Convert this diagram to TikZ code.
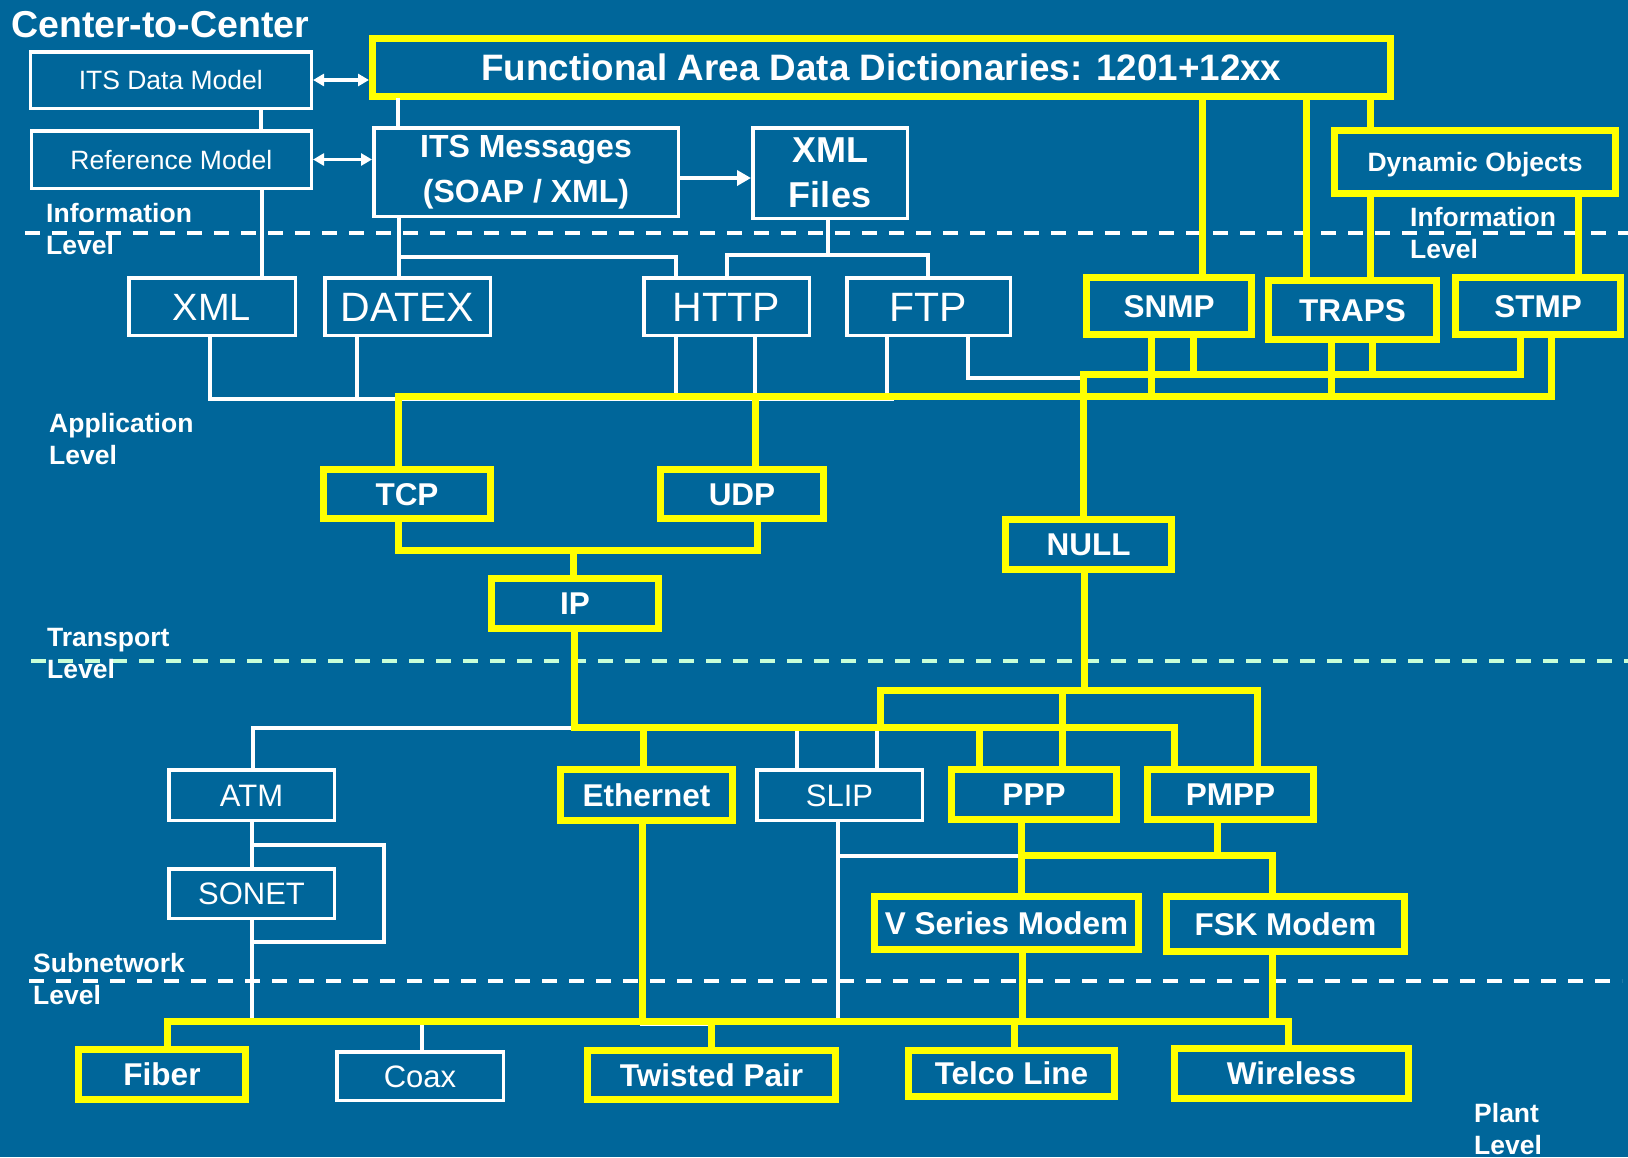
\documentclass[tikz,border=0pt]{standalone}
\usepackage{fontspec}
\setmainfont{Liberation Sans}
\usetikzlibrary{arrows.meta}
\definecolor{bg}{HTML}{00669A}
\definecolor{yl}{HTML}{FFFF00}
\definecolor{mint}{HTML}{C8FFD8}
\begin{document}
\begin{tikzpicture}[x=1pt,y=-1pt,
  ybox/.style={draw=yl, line width=7pt, inner sep=0pt, text=white,
    font=\bfseries\fontsize{31.5}{36}\selectfont, text height=22.5pt, text depth=0pt},
  wbox/.style={draw=white, line width=3.5pt, inner sep=0pt, text=white,
    font=\fontsize{31}{36}\selectfont, text height=22.2pt, text depth=0pt},
  wsmall/.style={wbox, font=\fontsize{26.5}{30}\selectfont, text height=19pt},
  wbig/.style={wbox, font=\fontsize{41}{46}\selectfont, text height=29.4pt},
  lbl/.style={text=white, font=\bfseries\fontsize{26.5}{32}\selectfont, align=left,
    inner sep=0pt, anchor=north west},
  yl/.style={draw=yl, line width=7pt, line cap=rect},
  wl/.style={draw=white, line width=3.5pt, line cap=rect},
  dl/.style={line width=4pt, dash pattern=on 15pt off 12pt},
  arr/.style={wl, line cap=butt, {Triangle[length=11pt,width=12pt]}-{Triangle[length=11pt,width=12pt]}}
]
\fill[bg] (0,0) rectangle (1628,1157);
\useasboundingbox (0,0) rectangle (1628,1157);

% level separators
\draw[dl, white] (25,233) -- (1628,233);
\draw[dl, mint] (31,661) -- (1628,661);
\draw[dl, white] (29,981) -- (1622,981);

% title and level labels
\node[anchor=base west, inner sep=0pt, text=white, font=\bfseries\fontsize{37.5}{40}\selectfont] (title) at (11,37) {Center-to-Center};
\node[lbl] (linfo) at (46,203) {Information\\Level};
\node[lbl] (lapp) at (49,413) {Application\\Level};
\node[lbl] (ltrans) at (47,628) {Transport\\Level};
\node[lbl] (lsub) at (33,953) {Subnetwork\\Level};
\node[lbl] (rinfo) at (1410,207) {Information\\Level};
\node[lbl] (lplant) at (1474,1103) {Plant\\Level};

% yellow boxes
\node[ybox, minimum width=1018pt, minimum height=58pt, font=\bfseries\fontsize{36.8}{40}\selectfont, text height=26.3pt] (func) at (881.5,67.5) {Functional Area Data Dictionaries: 1201+12xx};
\node[ybox, minimum width=281pt, minimum height=63pt, font=\bfseries\fontsize{26.5}{30}\selectfont, text height=19pt] (dyn) at (1475,162) {Dynamic Objects};
\node[ybox, minimum width=165pt, minimum height=57pt] (snmp) at (1169,306) {SNMP};
\node[ybox, minimum width=168pt, minimum height=59pt] (traps) at (1352.5,310) {TRAPS};
\node[ybox, minimum width=165pt, minimum height=57pt] (stmp) at (1538,306) {STMP};
\node[ybox, minimum width=167pt, minimum height=49pt] (tcp) at (407,494) {TCP};
\node[ybox, minimum width=163pt, minimum height=49pt] (udp) at (742,494) {UDP};
\node[ybox, minimum width=166pt, minimum height=50pt] (null) at (1088.5,544.5) {NULL};
\node[ybox, minimum width=167pt, minimum height=50pt] (ip) at (575,603.5) {IP};
\node[ybox, minimum width=172pt, minimum height=51pt] (eth) at (646.5,795) {Ethernet};
\node[ybox, minimum width=165pt, minimum height=50pt] (ppp) at (1034,794.5) {PPP};
\node[ybox, minimum width=166pt, minimum height=50pt] (pmpp) at (1230.5,794.5) {PMPP};
\node[ybox, minimum width=264pt, minimum height=53pt] (vser) at (1006.5,923) {V Series Modem};
\node[ybox, minimum width=238pt, minimum height=55pt] (fsk) at (1285.5,924) {FSK Modem};
\node[ybox, minimum width=167pt, minimum height=50pt] (fiber) at (162,1074.5) {Fiber};
\node[ybox, minimum width=248pt, minimum height=49pt] (twisted) at (711.5,1075) {Twisted Pair};
\node[ybox, minimum width=206pt, minimum height=46pt] (telco) at (1011.5,1073.5) {Telco Line};
\node[ybox, minimum width=234pt, minimum height=50pt] (wireless) at (1291.5,1073.5) {Wireless};

% white boxes
\node[wsmall, minimum width=281pt, minimum height=56.5pt] (itsdm) at (170.8,80) {ITS Data Model};
\node[wsmall, minimum width=280pt, minimum height=57.5pt] (refm) at (171.3,159.5) {Reference Model};
\node[draw=white, line width=3.5pt, inner sep=0pt, text=white, align=center,
  font=\bfseries\fontsize{32}{45}\selectfont, minimum width=304.5pt, minimum height=88.5pt] (itsmsg) at (526,172) {ITS Messages\\(SOAP / XML)};
\node[draw=white, line width=3.5pt, inner sep=0pt, text=white, align=center,
  font=\bfseries\fontsize{36}{45}\selectfont, minimum width=154.5pt, minimum height=90.5pt] (xmlf) at (830,173) {XML\\Files};
\node[wbig, minimum width=166.5pt, minimum height=57.5pt, font=\fontsize{38}{42}\selectfont, text height=27.2pt] (xml) at (212,306.5) {XML};
\node[wbig, minimum width=165.5pt, minimum height=57.5pt] (datex) at (407.5,306.5) {DATEX};
\node[wbig, minimum width=165.5pt, minimum height=57.5pt] (http) at (726.5,306.5) {HTTP};
\node[wbig, minimum width=163.5pt, minimum height=57.5pt] (ftp) at (928.5,306.5) {FTP};
\node[wbox, minimum width=165.5pt, minimum height=50.5pt] (atm) at (251.5,795) {ATM};
\node[wbox, minimum width=165.5pt, minimum height=49.5pt] (sonet) at (251.5,893.5) {SONET};
\node[wbox, minimum width=165.5pt, minimum height=50.5pt] (slip) at (839.5,795) {SLIP};
\node[wbox, minimum width=166.5pt, minimum height=48.5pt] (coax) at (420,1076) {Coax};

% white connectors
\draw[wl] (261,0 |- itsdm.south) -- (261,0 |- refm.north);
\draw[wl] (262,0 |- refm.south) -- (262,0 |- xml.north);
\draw[arr] (itsdm.east) -- (func.west |- itsdm.east);
\draw[arr] (refm.east) -- (itsmsg.west |- refm.east);
\draw[wl, line cap=butt, -{Triangle[length=14pt,width=15pt]}] (itsmsg.east |- 0,178) -- (xmlf.west |- 0,178);
\draw[wl] (398,0 |- func.south) -- (398,0 |- itsmsg.north);
\draw[wl] (399,0 |- itsmsg.south) -- (399,0 |- datex.north);
\draw[wl] (399,257) -- (676,257) -- (676,0 |- http.north);
\draw[wl] (828,0 |- xmlf.south) -- (828,255);
\draw[wl] (727,0 |- http.north) -- (727,255) -- (928,255) -- (928,0 |- ftp.north);
\draw[wl] (210,0 |- xml.south) -- (210,399) -- (892,399);
\draw[wl] (357,0 |- datex.south) -- (357,398);
\draw[wl] (676,0 |- http.south) -- (676,396);
\draw[wl] (755,0 |- http.south) -- (755,396);
\draw[wl] (887,0 |- ftp.south) -- (887,398);
\draw[wl] (968,0 |- ftp.south) -- (968,378) -- (1083,378);
\draw[wl] (574,728) -- (253,728) -- (253,0 |- atm.north);
\draw[wl] (252,0 |- atm.south) -- (252,0 |- sonet.north);
\draw[wl] (252,845) -- (384,845) -- (384,942) -- (252,942);
\draw[wl] (252,0 |- sonet.south) -- (252,1021);
\draw[wl] (422,0 |- coax.north) -- (422,1021);
\draw[wl] (797,0 |- slip.north) -- (797,727);
\draw[wl] (877,0 |- slip.north) -- (877,727);
\draw[wl] (838,0 |- slip.south) -- (838,1021);
\draw[wl] (838,856) -- (1021,856);
\draw[wl] (642,1024) -- (711,1024);

% yellow connectors
\draw[yl] (1202,0 |- func.south) -- (1202,0 |- snmp.north);
\draw[yl] (1306,0 |- func.south) -- (1306,0 |- traps.north);
\draw[yl] (1370,0 |- func.south) -- (1370,0 |- dyn.north);
\draw[yl] (1370,0 |- dyn.south) -- (1370,0 |- traps.north);
\draw[yl] (1578,0 |- dyn.south) -- (1578,0 |- stmp.north);
\draw[yl] (1520,0 |- stmp.south) -- (1520,374) -- (1083,374) -- (1083,0 |- null.north);
\draw[yl] (1193,0 |- snmp.south) -- (1193,374);
\draw[yl] (1372,0 |- traps.south) -- (1372,374);
\draw[yl] (1551,0 |- stmp.south) -- (1551,396) -- (398,396) -- (398,0 |- tcp.north);
\draw[yl] (1151,0 |- snmp.south) -- (1151,396);
\draw[yl] (1331,0 |- traps.south) -- (1331,396);
\draw[yl] (755,396) -- (755,0 |- udp.north);
\draw[yl] (398,0 |- tcp.south) -- (398,550) -- (757,550) -- (757,0 |- udp.south);
\draw[yl] (573,550) -- (573,0 |- ip.north);
\draw[yl] (574,0 |- ip.south) -- (574,727) -- (1174,727) -- (1174,0 |- pmpp.north);
\draw[yl] (643,727) -- (643,0 |- eth.north);
\draw[yl] (979,727) -- (979,0 |- ppp.north);
\draw[yl] (1084,0 |- null.south) -- (1084,690);
\draw[yl] (880,727) -- (880,690) -- (1257,690) -- (1257,0 |- pmpp.north);
\draw[yl] (1062,690) -- (1062,0 |- ppp.north);
\draw[yl] (642,0 |- eth.south) -- (642,1021);
\draw[yl] (167,0 |- fiber.north) -- (167,1021) -- (1288,1021) -- (1288,0 |- wireless.north);
\draw[yl] (711,1021) -- (711,0 |- twisted.north);
\draw[yl] (1014,1021) -- (1014,0 |- telco.north);
\draw[yl] (1021,0 |- ppp.south) -- (1021,0 |- vser.north);
\draw[yl] (1217,0 |- pmpp.south) -- (1217,855);
\draw[yl] (1021,855) -- (1272,855) -- (1272,0 |- fsk.north);
\draw[yl] (1022,0 |- vser.south) -- (1022,1021);
\draw[yl] (1272,0 |- fsk.south) -- (1272,1021);
\end{tikzpicture}
\end{document}
